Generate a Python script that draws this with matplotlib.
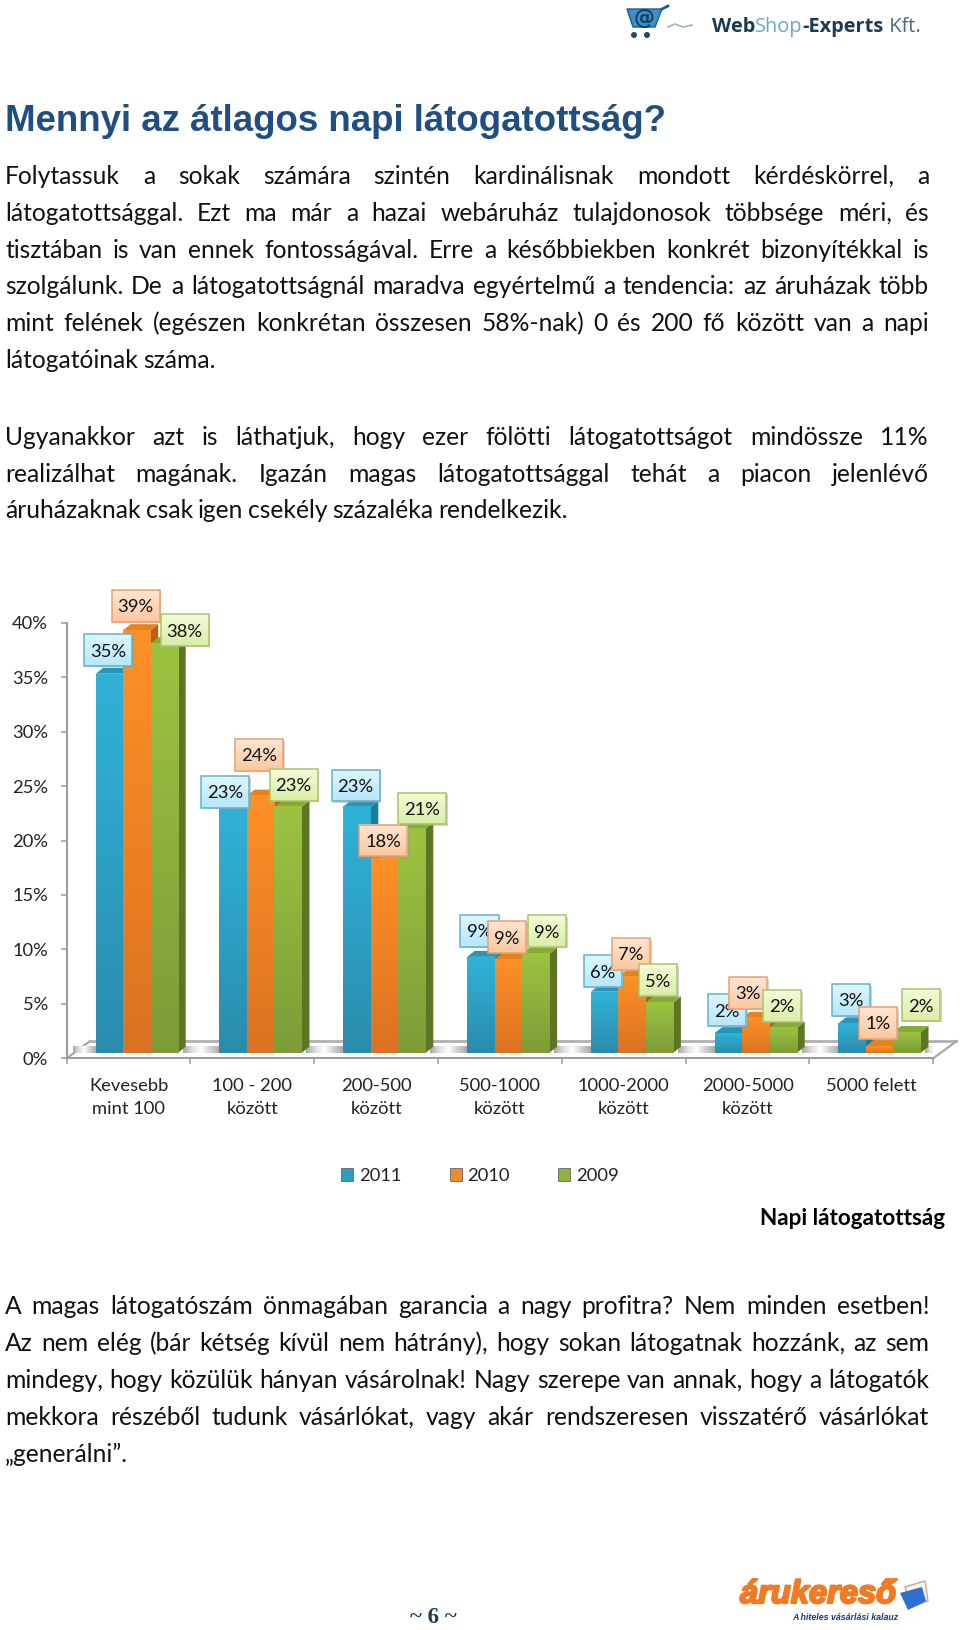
import numpy as np
import matplotlib
matplotlib.use("Agg")
import matplotlib.pyplot as plt
import matplotlib.patheffects as pe
from matplotlib.patches import Polygon, Rectangle, Patch, Circle
from matplotlib.colors import to_rgb

W, H = 960, 1630
BODY = "Lato"

# ---------- data ----------
categories = ["Kevesebb\nmint 100", "100 - 200\nközött", "200-500\nközött", "500-1000\nközött",
              "1000-2000\nközött", "2000-5000\nközött", "5000 felett"]
years = ["2011", "2010", "2009"]
v2011 = [34.8, 22.6, 22.6, 8.8, 5.6, 1.8, 2.7]
v2010 = [38.8, 23.6, 17.9, 8.6, 7.0, 3.2, 0.6]
v2009 = [37.6, 22.6, 20.6, 9.1, 4.6, 2.3, 1.9]
yticks = [0, 5, 10, 15, 20, 25, 30, 35, 40]

title = "Mennyi az átlagos napi látogatottság?"
para1 = ["Folytassuk a sokak számára szintén kardinálisnak mondott kérdéskörrel, a",
         "látogatottsággal. Ezt ma már a hazai webáruház tulajdonosok többsége méri, és",
         "tisztában is van ennek fontosságával. Erre a későbbiekben konkrét bizonyítékkal is",
         "szolgálunk. De a látogatottságnál maradva egyértelmű a tendencia: az áruházak több",
         "mint felének (egészen konkrétan összesen 58%-nak) 0 és 200 fő között van a napi",
         "látogatóinak száma."]
para2 = ["Ugyanakkor azt is láthatjuk, hogy ezer fölötti látogatottságot mindössze 11%",
         "realizálhat magának. Igazán magas látogatottsággal tehát a piacon jelenlévő",
         "áruházaknak csak igen csekély százaléka rendelkezik."]
para3 = ["A magas látogatószám önmagában garancia a nagy profitra? Nem minden esetben!",
         "Az nem elég (bár kétség kívül nem hátrány), hogy sokan látogatnak hozzánk, az sem",
         "mindegy, hogy közülük hányan vásárolnak! Nagy szerepe van annak, hogy a látogatók",
         "mekkora részéből tudunk vásárlókat, vagy akár rendszeresen visszatérő vásárlókat",
         "„generálni”."]

# ---------- styles ----------
front_top = ["#30b2d8", "#fd9026", "#9cc340"]
front_bot = ["#2a8cad", "#dc7222", "#7d9c38"]
side_col = ["#1f7b98", "#b4610f", "#5c7527"]
top_col = ["#2596ba", "#e8801c", "#86ab36"]
box_top = ["#dcf6ff", "#fee6d3", "#f2fbd8"]
box_bot = ["#b6e7f9", "#fbc79e", "#d9eea6"]
box_edge = ["#62b3cc", "#e8a070", "#a9c46c"]
legend_col = ["#2f9dbd", "#f08a2c", "#8db33c"]
# label-box offsets from each bar's top, in pixels (dx right, dy up)
label_dx = [[-1.3, -1.3, 20.2], [-8.1, -1.6, 5.4], [-1.4, -1.4, 10.1], [-1.2, -1.2, 11.3],
            [-1.5, -1.0, -1.5], [-1.3, -7.8, -1.3], [-1.1, -1.6, 13.9]]
label_dy = [[23.7, 24.2, 13.2], [14.6, 40.7, 21.6], [21.1, 17.3, 19.9], [25.9, 22.0, 22.6],
            [20.7, 22.5, 22.6], [23.0, 24.9, 21.7], [23.3, 23.2, 27.0]]

fig = plt.figure(figsize=(W / 100, H / 100), dpi=100, facecolor="white")

# page layer in pixel coordinates
page = fig.add_axes([0, 0, 1, 1], zorder=0)
page.set_xlim(0, W); page.set_ylim(H, 0); page.axis("off")
renderer = fig.canvas.get_renderer()


def width(s, **kw):
    t = page.text(0, 0, s, **kw)
    w = t.get_window_extent(renderer).width
    t.remove()
    return w


def seq(x, y, parts, **kw):
    for s, c, fw in parts:
        page.text(x, y, s, color=c, fontweight=fw, va="baseline", **kw)
        x += width(s, fontweight=fw, **kw)
    return x


def para(lines, ys, left=5, right=929, size=17.7, color="#111111"):
    kw = dict(family=BODY, fontsize=size)
    nat = size * 100 / 72 * 0.2
    for k, (line, y) in enumerate(zip(lines, ys)):
        words = line.split(" ")
        ws = [width(w, **kw) for w in words]
        last = k == len(lines) - 1
        gap = nat if last else (right - left - sum(ws)) / (len(words) - 1)
        x = left
        for w, wd in zip(words, ws):
            page.text(x, y, w, color=color, va="baseline", **kw)
            x += wd + gap


page.text(5, 131, title, family="Liberation Sans", fontweight="bold", fontsize=26.4,
          color="#1f4e82", va="baseline")
para(para1, [184, 221, 257.5, 294, 331, 368])
para(para2, [445, 481.5, 518])
para(para3, [1314, 1351, 1388, 1425, 1462])
page.text(945, 1225, "Napi látogatottság", family=BODY, fontweight="bold", fontsize=16.2,
          color="black", ha="right", va="baseline")
page.text(433, 1623, "~ 6 ~", family="Liberation Serif", fontweight="bold", fontsize=16.5,
          color="#1f3b5c", ha="center", va="baseline")

# top logo
seq(712, 32, [("Web", "#1d3a55", "bold"), ("Shop", "#6ea7c6", "normal"), ("-Experts", "#1d3a55", "bold"),
              (" Kft.", "#4d6a80", "normal")], family="Open Sans", fontsize=14.4)
page.add_patch(Polygon([(627, 9), (662, 9), (655, 27), (633, 27)], fc="#3f8fc0", ec="#1d5d8f", lw=1))
page.plot([662, 668], [9, 6], color="#1d5d8f", lw=2)
page.text(644, 18, "@", family="DejaVu Sans", fontweight="bold", fontsize=15, color="#0f3f68",
          ha="center", va="center")
page.add_patch(Circle((634, 35), 3, fc="#1d4a70", ec="none"))
page.add_patch(Circle((647, 35), 3, fc="#1d4a70", ec="none"))
page.plot([668, 675, 683, 692], [27, 24, 27, 25], color="#9fb4c2", lw=1.2)

# bottom logo
page.text(740, 1603, "árukereső", family="Liberation Sans", fontweight="bold", style="italic",
          fontsize=23.5, color="#f47a22", va="baseline",
          path_effects=[pe.withStroke(linewidth=1.6, foreground="#f47a22")])
page.add_patch(Polygon([(905, 1587), (925, 1581), (928, 1601), (912, 1607)], fc="#f5f5f5", ec="#c9a58a", lw=1))
page.add_patch(Polygon([(900, 1593), (922, 1587), (926, 1601), (908, 1610)], fc="#2f6fd0", ec="none"))
page.text(792, 1620, "A hiteles vásárlási kalauz", family="Liberation Sans", fontweight="bold",
          style="italic", fontsize=6.4, color="#1f3a7a", va="baseline")

# ---------- chart ----------
L, R, T, B = 66.7, 933.3, 622.7, 1058.3
ax = fig.add_axes([L / W, 1 - B / H, (R - L) / W, (B - T) / H], zorder=1)
ax.patch.set_alpha(0)
n = len(categories)
sx = (R - L) / n          # pixels per category
sy = (B - T) / 40         # pixels per percent
series = [v2011, v2010, v2009]

base = 5.6 / sy           # bar feet sit slightly behind the front edge
dx3, dy3 = 7.6 / sx, 6.0 / sy
bar_w, bar_step = 27.4 / sx, 27.5 / sx
bar_left = 29.0 / sx


def grad(a, x0, x1, y0, y1, cols, z, horizontal=False):
    rgb = np.array([to_rgb(c) for c in cols])
    s = np.linspace(0, len(cols) - 1, 64)
    arr = np.stack([np.interp(s, np.arange(len(cols)), rgb[:, c]) for c in range(3)], axis=-1)
    arr = arr[None, :, :] if horizontal else arr[:, None, :]
    a.imshow(arr, extent=(x0, x1, y0, y1), aspect="auto", zorder=z, interpolation="bilinear", origin="upper")


# floor
back = 17.3 / sy
fx = 23.5 / sx
ax.add_patch(Polygon([(0, 0), (fx, back), (n + fx, back), (n, 0)], fc="white", ec="none", zorder=1))
ax.plot([fx, n + fx], [back, back], color="#b0b0b0", lw=2, zorder=1.2, solid_capstyle="butt", clip_on=False)
ax.plot([0, fx], [0, back], color="#a8a8a8", lw=1.6, zorder=1.2, clip_on=False)
ax.plot([n, n + fx], [0, back], color="#a8a8a8", lw=1.6, zorder=1.2, clip_on=False)
for i in range(n + 1):
    g0 = 0.05 if i == 0 else i - 1 + bar_left + 2 * bar_step + bar_w + dx3 * 0.6
    g1 = min(n + 0.08, i + bar_left)
    grad(ax, g0, g1, base - 0.05, base + 0.55, ["#a8a8a8", "#dedede", "#ffffff", "#d0d0d0", "#acacac"], 1.3,
         horizontal=True)

# bars
z = 2.0
for i in range(n):
    for j in range(3):
        v = series[j][i]
        x0 = i + bar_left + j * bar_step
        x1 = x0 + bar_w
        t = base + v
        ax.add_patch(Polygon([(x1, base), (x1 + dx3, base + dy3), (x1 + dx3, t + dy3), (x1, t)],
                             fc=side_col[j], ec="none", zorder=z))
        ax.add_patch(Polygon([(x0, t), (x0 + dx3, t + dy3), (x1 + dx3, t + dy3), (x1, t)],
                             fc=top_col[j], ec="none", zorder=z))
        ax.bar(x0, v, bottom=base, width=bar_w, align="edge", color=front_top[j], zorder=z + 0.001)
        grad(ax, x0, x1, base, t, [front_top[j], front_bot[j]], z + 0.002)
        z += 0.01

# data labels
for j in range(3):
    for i in range(n):
        v = series[j][i]
        xc = i + bar_left + j * bar_step + bar_w / 2
        t = base + v
        s = f"{round(v)}%"
        bw = (48 if len(s) == 3 else 38.5) / sx
        bh = 31.5 / sy
        cx = xc + label_dx[i][j] / sx
        cy = t + label_dy[i][j] / sy
        zz = 5 + j + i * 0.01
        ax.add_patch(Rectangle((cx - bw / 2 + 1.5 / sx, cy - bh / 2 - 1.5 / sy), bw, bh, fc="#999999", alpha=0.45,
                               ec="none", zorder=zz, clip_on=False))
        grad(ax, cx - bw / 2, cx + bw / 2, cy - bh / 2, cy + bh / 2, [box_top[j], box_bot[j]], zz + 0.001)
        ax.images[-1].set_clip_on(False)
        ax.add_patch(Rectangle((cx - bw / 2, cy - bh / 2), bw, bh, fc="none", ec=box_edge[j], lw=1.1,
                               zorder=zz + 0.002, clip_on=False))
        ax.text(cx, cy - 1.5 / sy, s, family=BODY, fontsize=13.2, color="#111111", ha="center", va="center",
                zorder=zz + 0.003, clip_on=False)

# axes
ax.set_xlim(0, n)
ax.set_ylim(0, 40)
for sp in ("top", "right"):
    ax.spines[sp].set_visible(False)
for sp in ("left", "bottom"):
    ax.spines[sp].set_color("#9a9a9a")
    ax.spines[sp].set_linewidth(1.4)
    ax.spines[sp].set_zorder(1.5)
ax.set_yticks(yticks)
ax.set_yticklabels([f"{t}%" for t in yticks], family=BODY, fontsize=13.2, color="#222222")
ax.tick_params(axis="y", length=4.5, width=1.1, color="#9a9a9a", pad=9)
ax.set_xticks(np.arange(n + 1))
ax.set_xticklabels([""] * (n + 1))
ax.tick_params(axis="x", which="major", length=4.5, width=1.1, color="#9a9a9a")
ax.set_xticks(np.arange(n) + 0.5, minor=True)
ax.set_xticklabels(categories, minor=True, family=BODY, fontsize=13.2, color="#222222", linespacing=1.5)
ax.tick_params(axis="x", which="minor", length=0, pad=14.5)

handles = [Patch(facecolor=c, edgecolor="#666666", lw=0.6) for c in legend_col]
leg = ax.legend(handles, years, ncol=3, frameon=False, loc="center",
                bbox_to_anchor=(480 / W, 1 - 1176 / H), bbox_transform=fig.transFigure,
                prop={"family": BODY, "size": 13.2}, handlelength=0.66, handleheight=0.66,
                handletextpad=0.3, columnspacing=2.64, labelcolor="#222222")

fig.savefig("out.png", dpi=100, facecolor="white")
